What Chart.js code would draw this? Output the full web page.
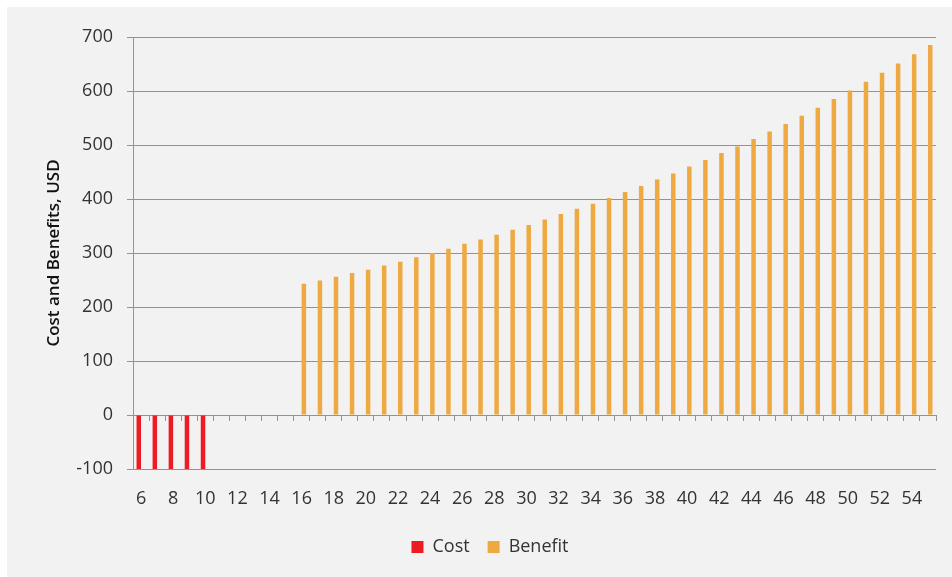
<!DOCTYPE html>
<html>
<head>
<meta charset="utf-8">
<script src="https://cdn.jsdelivr.net/npm/chart.js@4.4.1/dist/chart.umd.min.js"></script>
<style>
  html, body { margin: 0; padding: 0; background: #ffffff; }
  #wrap { width: 952px; height: 577px; position: relative; }
</style>
</head>
<body>
<div id="wrap"><canvas id="chart" width="952" height="577"></canvas></div>
<script>
// Year of the project (x categories)
const years = [6, 7, 8, 9, 10, 11, 12, 13, 14, 15, 16, 17, 18, 19, 20, 21, 22, 23, 24, 25,
               26, 27, 28, 29, 30, 31, 32, 33, 34, 35, 36, 37, 38, 39, 40, 41, 42, 43, 44, 45,
               46, 47, 48, 49, 50, 51, 52, 53, 54, 55];

// Yearly cost (USD), years 6-10
const cost = [-100, -100, -100, -100, -100, null, null, null, null, null,
              null, null, null, null, null, null, null, null, null, null,
              null, null, null, null, null, null, null, null, null, null,
              null, null, null, null, null, null, null, null, null, null,
              null, null, null, null, null, null, null, null, null, null];

// Yearly benefit (USD), years 16-55
const benefit = [null, null, null, null, null, null, null, null, null, null,
                 243, 249, 256, 263, 269, 277, 284, 292, 300, 308,
                 317, 325, 334, 343, 352, 362, 372, 382, 391, 402,
                 413, 424, 436, 447, 460, 472, 485, 497, 511, 525,
                 539, 554, 569, 585, 601, 617, 634, 651, 668, 685];

// Labels printed under the axis
const xTickLabels = ['6', '8', '10', '12', '14', '16', '18', '20', '22', '24', '26', '28', '30',
                     '32', '34', '36', '38', '40', '42', '44', '46', '48', '50', '52', '54'];
const yTicks = [-100, 0, 100, 200, 300, 400, 500, 600, 700];

const FONT = "'Open Sans', 'Noto Sans', sans-serif";
const GRID = '#939393';
const TEXT = '#333333';

// Light panel behind the chart with a thin white margin on top and left
const panelBackground = {
  id: 'panelBackground',
  beforeDraw(chart) {
    const { ctx, width, height } = chart;
    ctx.save();
    ctx.fillStyle = '#ffffff';
    ctx.fillRect(0, 0, width, height);
    ctx.fillStyle = '#f2f2f2';
    ctx.fillRect(7, 7, width - 7, height - 7);
    ctx.restore();
  }
};

new Chart(document.getElementById('chart'), {
  type: 'bar',
  data: {
    labels: years.map(String),
    datasets: [
      {
        label: 'Cost',
        data: cost,
        backgroundColor: '#ED1C24',
        categoryPercentage: 0.56,
        barPercentage: 1.0,
        xAxisID: 'x',
        yAxisID: 'y'
      },
      {
        label: 'Benefit',
        data: benefit,
        backgroundColor: '#EEA943',
        categoryPercentage: 0.56,
        barPercentage: 1.0,
        xAxisID: 'x',
        yAxisID: 'y'
      }
    ]
  },
  options: {
    responsive: false,
    animation: false,
    layout: { padding: { top: 37, right: 16, bottom: 11, left: 44 } },
    scales: {
      x: {
        type: 'category',
        position: 'bottom',
        offset: true,
        grid: { display: false, offset: true },
        border: { display: false },
        ticks: {
          autoSkip: false,
          maxRotation: 0,
          minRotation: 0,
          padding: 11,
          color: TEXT,
          font: { family: FONT, size: 18 },
          callback(value) {
            const lbl = this.getLabelForValue(value);
            return xTickLabels.includes(lbl) ? lbl : '';
          }
        },
        afterFit(scale) { scale.height = 51; }
      },
      // Horizontal axis line with tick marks running along the zero value
      xZero: {
        type: 'category',
        position: { y: 0 },
        offset: true,
        grid: { display: true, offset: true, drawOnChartArea: false, drawTicks: true, tickLength: 5, color: GRID, lineWidth: 1 },
        border: { display: true, color: GRID, width: 1 },
        ticks: { display: false }
      },
      y: {
        min: -100,
        max: 700,
        afterBuildTicks(scale) { scale.ticks = yTicks.map(v => ({ value: v })); },
        grid: { color: GRID, lineWidth: 1, drawTicks: true, tickLength: 6 },
        border: { display: true, color: GRID, width: 1 },
        ticks: {
          padding: 14,
          color: TEXT,
          font: { family: FONT, size: 18 }
        },
        title: {
          display: true,
          text: 'Cost and Benefits, USD',
          color: '#111111',
          padding: { top: 0, bottom: 0 },
          font: { family: FONT, size: 17, weight: '600' }
        },
        afterFit(scale) { scale.width = 89; }
      }
    },
    plugins: {
      legend: {
        position: 'bottom',
        align: 'center',
        labels: {
          boxWidth: 12,
          boxHeight: 12,
          padding: 18,
          color: TEXT,
          font: { family: FONT, size: 18 }
        }
      },
      tooltip: { enabled: false }
    }
  },
  plugins: [panelBackground]
});
</script>
</body>
</html>
